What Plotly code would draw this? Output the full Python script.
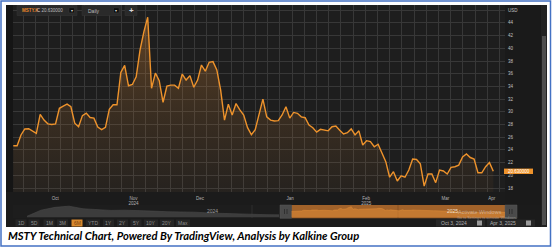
import plotly.graph_objects as go

W, H = 552, 248

# ---------------- data ----------------
prices = [24.66, 24.66, 26.35, 27.3, 27.34, 27.0, 26.6, 29.6, 28.7, 28.1, 28.0, 28.1,
          30.55, 30.9, 31.2, 30.8, 28.2, 27.65, 29.4, 29.8, 29.1, 29.0, 27.6, 27.2, 27.55,
          30.4, 31.1, 31.1, 36.2, 37.3, 34.1, 34.3, 35.5, 39.7, 42.6, 44.9, 33.7, 36.1, 34.9,
          31.5, 34.06, 34.2, 34.2, 33.7, 35.95, 35.0, 35.7, 33.86, 35.0, 37.37, 36.4, 37.8,
          37.9, 36.6, 33.4, 28.7, 31.2, 29.5, 31.3, 30.3, 29.5, 27.5, 26.4, 27.2, 29.5, 32.0,
          29.2, 28.7, 28.55, 28.6, 29.5, 30.8, 29.0, 29.9, 29.76, 29.2, 29.07, 27.9, 27.5, 26.8,
          27.24, 27.1, 27.0, 27.65, 27.76, 27.1, 26.5, 26.7, 27.3, 26.35, 27.0, 24.77, 25.45,
          25.3, 24.5, 24.9, 23.46, 22.15, 19.7, 20.57, 19.1, 19.9, 19.7, 20.83, 22.57, 22.5,
          21.8, 18.3, 20.2, 20.2, 18.84, 20.83, 20.68, 20.2, 21.26, 21.35, 21.6, 22.9, 23.35,
          22.8, 22.57, 20.4, 20.4, 21.35, 22.0, 20.63]

month_labels = ["Oct", "Nov<br>2024", "Dec", "Jan", "Feb<br>2025", "Mar", "Apr"]
month_pos = [10.9, 31.3, 48.6, 72.1, 91.9, 112.5, 124.6]   # trading-day index

y_tick_vals = [18, 20, 22, 24, 26, 28, 30, 32, 34, 36, 38, 40, 42, 44, 46]
y_tick_text = ["18", "20", "22", "24", "26", "28", "30", "32", "34", "36", "38", "40", "42", "44", "USD"]

# navigator history before the selected window (grey mini area)
nav_hist = [4, 30, 42, 47, 36, 31, 29, 30, 29, 26, 23.5, 23.5, 21.5, 18, 15.5, 13.5, 12.4, 11, 10]

range_buttons = ["1D", "5D", "1M", "3M", "6M", "YTD", "1Y", "2Y", "5Y", "10Y", "20Y", "Max"]
active_button = "6M"
ticker = "MSTY.K"
interval = "Daily"
date_from, date_to = "Oct 3, 2024", "Apr 3, 2025"
caption = "MSTY Technical Chart, Powered By TradingView, Analysis by Kalkine Group"

# ---------------- geometry helpers ----------------
def px(x):
    return x / W

def py(y):
    return 1 - y / H

n = len(prices)
idx = list(range(n))
x0_px, xN_px = 13.3, 493.3
step = (xN_px - x0_px) / (n - 1)
plot_l, plot_r, plot_t, plot_b = 13, 505, 5, 192
x_lo = (plot_l - x0_px) / step
x_hi = (plot_r - x0_px) / step

# y scale: 20 -> 175.3px, 6.35 px/unit
def yv(ypix):
    return 20 + (175.3 - ypix) / 6.35

y_lo, y_hi = yv(plot_b), yv(plot_t)

# navigator axis
nav_l, nav_r = 13, 517
sel_l, sel_r = 291.5, 505
nav_scale = (n - 1) / (sel_r - sel_l)
nx_lo = (nav_l - sel_l) * nav_scale
nx_hi = (nav_r - sel_l) * nav_scale
hist_start, hist_end = (27 - sel_l) * nav_scale, (279 - sel_l) * nav_scale
nav_hist_x = [hist_start + i * (hist_end - hist_start) / (len(nav_hist) - 1) for i in range(len(nav_hist))]

ORANGE = "#ee932c"
FONT = "Liberation Sans, Arial, sans-serif"
GRID = "#383838"

fig = go.Figure()

# invisible carrier for the vertical-grid axis
fig.add_trace(go.Scatter(x=[x_lo, x_hi], y=[y_lo, y_lo], mode="markers",
                         marker=dict(opacity=0), hoverinfo="skip", showlegend=False,
                         xaxis="x3", yaxis="y"))

fig.add_trace(go.Scatter(
    x=idx, y=prices, mode="lines",
    line=dict(color=ORANGE, width=1.4),
    fill="tozeroy",
    fillgradient=dict(type="vertical",
                      colorscale=[[0, "rgba(230,140,50,0.04)"], [0.5, "rgba(230,140,50,0.15)"],
                                  [1, "rgba(230,140,50,0.33)"]],
                      start=y_lo, stop=45),
    hoverinfo="skip", showlegend=False, xaxis="x", yaxis="y"))

fig.add_trace(go.Scatter(
    x=nav_hist_x, y=nav_hist, mode="lines",
    line=dict(color="#4a4a4a", width=0.6), fill="tozeroy", fillcolor="#3c3c3c",
    hoverinfo="skip", showlegend=False, xaxis="x2", yaxis="y2"))

fig.add_trace(go.Scatter(
    x=idx, y=prices, mode="lines",
    line=dict(color="rgba(235,150,60,0.8)", width=0.5), fill="tozeroy",
    fillcolor="rgba(225,140,55,0.55)",
    hoverinfo="skip", showlegend=False, xaxis="x2", yaxis="y2"))

shapes = []
def rect(x0, y0, x1, y1, fill, line=None, lw=0, layer="below"):
    shapes.append(dict(type="rect", xref="paper", yref="paper",
                       x0=px(x0), x1=px(x1), y0=py(y1), y1=py(y0),
                       fillcolor=fill, line=dict(color=line or fill, width=lw), layer=layer))

def vline(x, y0, y1, color, w=0.6, layer="below"):
    shapes.append(dict(type="line", xref="paper", yref="paper",
                       x0=px(x), x1=px(x), y0=py(y1), y1=py(y0),
                       line=dict(color=color, width=w), layer=layer))

# panels
rect(6, 5, 547, 227, "#1b1b1b")
rect(6, 5, 13, 192, "#151515")
rect(13, 5, 505, 192, "#1e1e1e")
rect(505, 5, 541, 205, "#1a1a1a")
rect(541, 5, 547, 227, "#222222")
rect(542, 36, 546, 225, "#4e4e4e")

# navigator
rect(13, 205, 517, 218.3, "#1d1d1d")
rect(sel_l, 205, sel_r, 218.3, "#a1622a")
rect(280, 205, sel_l, 218.3, "#4a4a4a", "#5a5a5a", 0.5)
rect(sel_r, 205, 517, 218.3, "#4a4a4a", "#5a5a5a", 0.5)
vline(284.5, 209, 214, "#2a2a2a", 0.8)
vline(287, 209, 214, "#2a2a2a", 0.8)
vline(509.5, 209, 214, "#2a2a2a", 0.8)
vline(512, 209, 214, "#2a2a2a", 0.8)
vline(252, 205, 218, "#3a3a3a", 0.6)
vline(398, 205, 218, "#7a4a20", 0.6)

# toolbar boxes
rect(17, 5.5, 77, 15.5, "#2a2a2a", "#363636", 0.5, layer="above")
rect(69, 7.8, 74.5, 12.8, "#0e0e0e", "#444", 0.4, layer="above")
rect(82, 5.5, 121, 15.5, "#2a2a2a", "#363636", 0.5, layer="above")
rect(113.5, 7.8, 119, 12.8, "#0e0e0e", "#444", 0.4, layer="above")
rect(125, 5.5, 137, 15.5, "#2a2a2a", "#363636", 0.5, layer="above")

# last price marker
shapes.append(dict(type="rect", xref="paper", yref="y",
                   x0=px(504), x1=px(533), y0=prices[-1] - 0.43, y1=prices[-1] + 0.43,
                   fillcolor=ORANGE, line=dict(color=ORANGE, width=0), layer="above"))

# blue picture border
shapes.append(dict(type="rect", xref="paper", yref="paper",
                   x0=px(1), x1=px(550.5), y0=py(246), y1=py(1),
                   line=dict(color="#4472c4", width=1.5), fillcolor="rgba(0,0,0,0)", layer="above"))

annotations = []
def text(x, y, s, size=4.5, color="#c8c8c8", anchor="left", family=FONT, **kw):
    annotations.append(dict(xref="paper", yref="paper", x=px(x), y=py(y), text=s,
                            showarrow=False, xanchor=anchor, yanchor="middle",
                            font=dict(size=size, color=color, family=family), **kw))

text(19.5, 10.5, "<b>" + ticker + "</b>", color="#e8892b")
text(35, 10.5, "C %.6f" % prices[-1], color="#bdbdbd")
text(71.8, 10.3, "▾", size=4, color="#dddddd", anchor="center")
text(86, 10.5, interval, size=5, color="#bdbdbd")
text(116.3, 10.3, "▾", size=4, color="#dddddd", anchor="center")
text(131, 10.3, "<b>+</b>", size=8, color="#d8d8d8", anchor="center")

# last price text
annotations.append(dict(xref="paper", yref="y", x=px(518.5), y=prices[-1],
                        text="%.6f" % prices[-1], showarrow=False, xanchor="center", yanchor="middle",
                        font=dict(size=4.5, color="#ffffff", family=FONT)))

# navigator labels
text(212, 211.3, "2024", size=5, color="#9a9a9a", anchor="center")
text(452, 211.3, "2025", size=5, color="#f0e0cc", anchor="center")
text(456, 212.3, "Activate Windows", size=5.5, color="rgba(215,215,215,0.55)")
text(455, 217.8, "Go to Settings to activate Windows.", size=3.8, color="rgba(215,215,215,0.5)")

# range buttons
btn_x = [21, 34, 49, 62.5, 77, 93, 108.5, 122.5, 136, 151, 167, 183]
for lab, bx in zip(range_buttons, btn_x):
    w = 11 if len(lab) <= 2 else 14
    if lab == active_button:
        rect(bx - w / 2, 219.5, bx + w / 2, 226.5, "#d8892e")
        text(bx, 223.2, lab, size=5, color="#7a4412", anchor="center")
    else:
        rect(bx - w / 2, 219.5, bx + w / 2, 226.5, "#262626")
        text(bx, 223.2, lab, size=5, color="#8e8e8e", anchor="center")

# date range boxes
rect(436, 219.5, 485, 226.5, "#262626")
rect(487, 219.5, 535, 226.5, "#262626")
text(453.5, 223.2, date_from, size=5, color="#b0b0b0", anchor="center")
text(502.5, 223.2, date_to, size=5, color="#b0b0b0", anchor="center")
rect(477, 220.5, 482, 225.5, "#9a9a9a", layer="above")
rect(526, 220.5, 531, 225.5, "#9a9a9a", layer="above")

# caption
text(6, 235.5, "<b><i>" + caption + "</i></b>", size=11.2, color="#000000",
     family="Lato, Liberation Sans, sans-serif")

fig.update_layout(
    width=W, height=H, margin=dict(l=0, r=0, t=0, b=0),
    paper_bgcolor="#ffffff", plot_bgcolor="rgba(0,0,0,0)",
    showlegend=False, shapes=shapes, annotations=annotations,
    xaxis=dict(domain=[px(plot_l), px(plot_r)], range=[x_lo, x_hi],
               tickmode="array", tickvals=month_pos, ticktext=month_labels,
               showgrid=False, zeroline=False, showline=False, ticks="",
               tickfont=dict(size=4.5, color="#b4b4b4", family=FONT), ticklabelstandoff=2,
               fixedrange=True),
    xaxis3=dict(overlaying="x", anchor="y", range=[x_lo, x_hi], tickmode="linear",
                tick0=2.73, dtick=3.177, showgrid=True, gridcolor=GRID, gridwidth=1,
                showticklabels=False, ticks="", zeroline=False, showline=False, fixedrange=True),
    yaxis=dict(domain=[py(plot_b), py(plot_t)], range=[y_lo, y_hi], side="right",
               tickmode="array", tickvals=y_tick_vals, ticktext=y_tick_text,
               showgrid=True, gridcolor=GRID, gridwidth=1, zeroline=False, showline=False,
               ticks="", tickfont=dict(size=4.5, color="#c0c0c0", family=FONT),
               ticklabelstandoff=2, fixedrange=True),
    xaxis2=dict(domain=[px(nav_l), px(nav_r)], range=[nx_lo, nx_hi], anchor="y2",
                visible=False, fixedrange=True),
    yaxis2=dict(domain=[py(218.3), py(205)], range=[-4.6, 52], anchor="x2",
                visible=False, fixedrange=True),
)

fig.write_html("out.html")
